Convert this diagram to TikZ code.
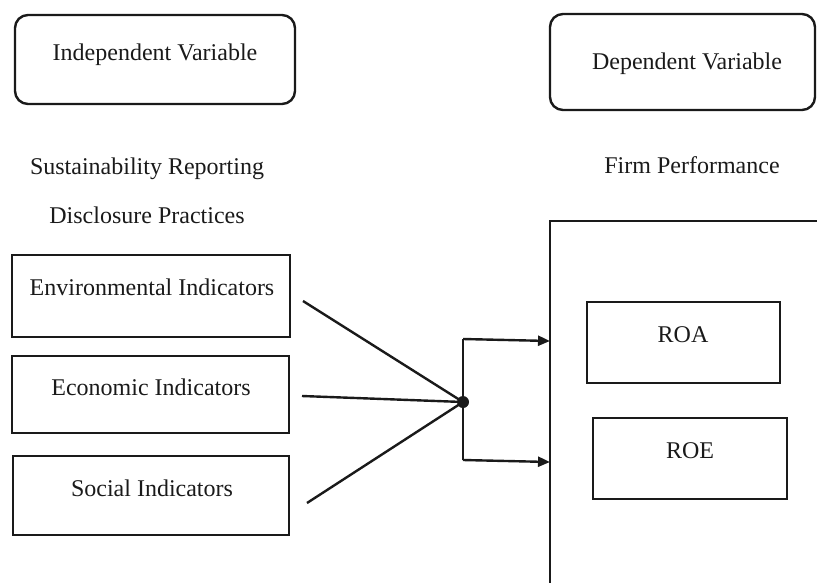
\documentclass[tikz,border=0pt]{standalone}
\usepackage{fontspec}
\setmainfont{Liberation Serif}
\usetikzlibrary{calc,arrows.meta}
\definecolor{ink}{HTML}{1A1A1A}
\begin{document}
\begin{tikzpicture}[x=1pt,y=-1pt,
  every node/.style={inner sep=0pt,outer sep=0pt},
  lbl/.style={font=\fontsize{24}{28}\selectfont,text=ink,anchor=base},
  box/.style={draw=ink,line width=2.4pt,rectangle},
  rbox/.style={draw=ink,line width=2.4pt,rectangle,rounded corners=13pt},
  conn/.style={draw=ink,line width=2.4pt},
  arr/.style={conn,-{Triangle[length=12pt,width=10pt]}}]
\useasboundingbox (0,0) rectangle (817,582);
% top boxes
\node[rbox,minimum width=280pt,minimum height=89pt] (ivbox) at (155,59.5) {};
\node[lbl] (ivt) at (155,60) {Independent Variable};
\node[rbox,minimum width=265pt,minimum height=96pt] (dvbox) at (682.5,62) {};
\node[lbl] (dvt) at (687,69) {Dependent Variable};
% headings
\node[lbl] (sr) at (147,174) {Sustainability Reporting};
\node[lbl] (dp) at (147,223) {Disclosure Practices};
\node[lbl] (fp) at (692,173) {Firm Performance};
% indicator boxes
\node[box,minimum width=278pt,minimum height=82pt] (env) at (151,296) {};
\node[lbl] (envt) at (152,295) {Environmental Indicators};
\node[box,minimum width=277pt,minimum height=77pt] (eco) at (150.5,394.5) {};
\node[lbl] (ecot) at (151,395) {Economic Indicators};
\node[box,minimum width=276pt,minimum height=79pt] (soc) at (151,495.5) {};
\node[lbl] (soct) at (152,496) {Social Indicators};
% firm performance frame
\coordinate (fptr) at (820,221);
\coordinate (fptl) at (550,221);
\coordinate (fpbl) at (550,585);
\draw[conn] (fptr) -- (fptl) -- (fpbl);
\node[box,minimum width=193pt,minimum height=81pt] (roa) at (683.5,342.5) {};
\node[lbl] (roat) at (683,342) {ROA};
\node[box,minimum width=194pt,minimum height=81pt] (roe) at (690,458.5) {};
\node[lbl] (roet) at (690,458) {ROE};
% junction
\coordinate (J) at (463,402);
\fill[ink] (J) circle (6pt);
\draw[conn] ($(env.east)+(13,5)$) -- (J);
\draw[conn] ($(eco.east)+(13,1.5)$) -- (J);
\draw[conn] ($(soc.east)+(18,7.5)$) -- (J);
\coordinate (bt) at (463,339);
\coordinate (bb) at (463,460);
\coordinate (at) at (550,341);
\coordinate (ab) at (550,462);
\draw[conn] (bt) -- (bb);
\draw[arr] (bt) -- (at);
\draw[arr] (bb) -- (ab);
\end{tikzpicture}
\end{document}
